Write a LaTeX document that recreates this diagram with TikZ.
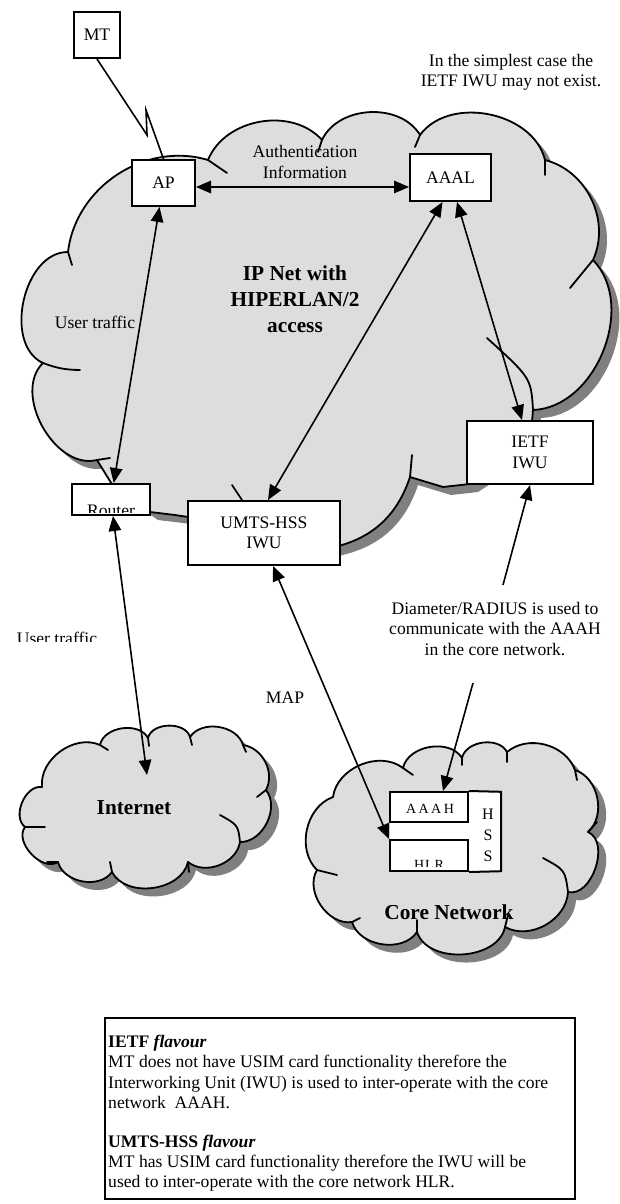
\documentclass[tikz,border=0pt]{standalone}
\usepackage{fontspec}
\setmainfont{Liberation Serif}
\usetikzlibrary{arrows.meta}
\definecolor{cloudgray}{HTML}{DDDDDD}
\definecolor{shadowgray}{HTML}{808080}
\newcommand\mysz{\fontsize{17.6}{20.5}\selectfont}
\newcommand\mybig{\fontsize{21.3}{26}\selectfont\bfseries}
\newcommand\bigcloudpath{(68,252) to[lobe=50] (208,160) to[lobe=58] (322,140) to[lobe=62] (420,135) to[lobe=65] (545,160) to[lobe=50] (593,260) to[lobe=66] (533,410) -- (530,445) -- (470,484) -- (443,487) -- (410,477) to[lobe=30] (330,548) -- (190,520) -- (188,517) -- (175,515) -- (150,512) -- (113,486) -- (97,460) to[lobe=75] (43,363) to[lobe=78] (68,252) -- cycle}
\newcommand\inetcloudpath{(42,787) to[lobe=60] (100,745) to[lobe=70] (148,738) to[lobe=75] (190,737) to[lobe=65] (243,745) to[lobe=55] (266,790) to[lobe=65] (240,842) to[lobe=60] (188,862) to[lobe=70] (112,872) to[lobe=65] (58,862) to[lobe=80] (25,827) to[lobe=75] (42,787) -- cycle}
\newcommand\corecloudpath{(333,797) to[lobe=60] (403,768) to[lobe=68] (462,758) to[lobe=70] (507,752) to[lobe=55] (575,770) to[lobe=60] (588,832) to[lobe=85] (568,892) to[lobe=58] (505,927) to[lobe=75] (417,932) to[lobe=65] (352,922) to[lobe=65] (317,870) to[lobe=58] (333,797) -- cycle}
\begin{document}
\begin{tikzpicture}[x=1pt,y=-1pt,
  lobe/.style={bend left=#1},
  lobe/.default=60,
  cloudfill/.style={fill=cloudgray, draw=black, line width=1.8pt, line join=round},
  cloudshadow/.style={fill=shadowgray, shift={(8,8)}},
  stub/.style={line width=1.8pt, line cap=round},
  box/.style={draw, line width=2pt, fill=white, inner sep=0pt, font=\mysz, align=center},
  lbl/.style={font=\mysz, align=center, inner sep=0pt},
  conn/.style={line width=1.6pt},
  >={Triangle[length=15pt,width=12.5pt]}]
\useasboundingbox (0,0) rectangle (620,1204);
\fill[white] (0,0) rectangle (620,1204);

% shadows
\path[cloudshadow] \bigcloudpath;
\path[cloudshadow] \inetcloudpath;
\path[cloudshadow] \corecloudpath;
% clouds
\path[cloudfill] \bigcloudpath;
\path[cloudfill] \inetcloudpath;
\path[cloudfill] \corecloudpath;

% stubs of the big cloud
\draw[stub] (68,252) -- (72,265);
\draw[stub] (43,363) to[bend right=10] (80,370);
\draw[stub] (97,460) -- (110,458);
\draw[stub] (208,160) -- (227,173);
\draw[stub] (322,140) -- (318,152);
\draw[stub] (420,135) -- (415,147);
\draw[stub] (545,160) -- (545,175);
\draw[stub] (593,260) -- (570,288);
\draw[stub] (533,410) .. controls (531,378) .. (487,338);
\draw[stub] (410,477) -- (412,455);
\draw[stub] (242,500) -- (232,485);
% stubs of the Internet cloud
\draw[stub] (100,745) -- (108,750);
\draw[stub] (148,738) -- (149,746);
\draw[stub] (190,737) -- (192,745);
\draw[stub] (243,745) -- (246,752);
\draw[stub] (266,790) -- (257,797);
\draw[stub] (240,842) .. controls (238,825) .. (220,815);
\draw[stub] (188,862) -- (189,872);
\draw[stub] (112,872) -- (110,862);
\draw[stub] (58,862) -- (47,862);
\draw[stub] (25,827) -- (45,827);
% stubs of the core cloud
\draw[stub] (403,768) -- (413,775);
\draw[stub] (462,758) -- (462,765);
\draw[stub] (507,752) -- (507,762);
\draw[stub] (575,770) -- (577,780);
\draw[stub] (588,832) -- (597,822);
\draw[stub] (568,892) .. controls (565,870) .. (543,858);
\draw[stub] (505,927) -- (508,915);
\draw[stub] (417,932) -- (417,920);
\draw[stub] (352,922) -- (360,918);
\draw[stub] (317,870) -- (337,875);

% boxes
\node[box, minimum width=46, minimum height=46] (MT) at (97,35) {MT};
\node[box, minimum width=63, minimum height=46] (AP) at (163.5,183) {AP};
\node[box, minimum width=81, minimum height=47] (AAAL) at (450.5,177.5) {AAAL};
\node[box, minimum width=126, minimum height=63] (IETF) at (530,452.5) {IETF\\IWU};
\node[box, minimum width=152, minimum height=64] (UMTS) at (264,533) {UMTS-HSS\\IWU};
\node[box, minimum width=78, minimum height=31] (Router) at (111,499.5) {};
\begin{scope}
  \clip (72,484) rectangle (150,512);
  \node[lbl, anchor=base] (routertxt) at (111,516) {Router};
\end{scope}

% HSS block
\node[fill=white, inner sep=0pt, minimum width=111, minimum height=79] (HSSbox) at (445.5,831.5) {};
\node[box, minimum width=78, minimum height=30] (AAAH) at (429,807) {};
\node[lbl, font=\fontsize{14}{16}\selectfont] (aaahtxt) at (430,809) {A\kern2.5pt A\kern2.5pt A\kern2.5pt H};
\node[box, minimum width=78, minimum height=31] (HLR) at (429,855.5) {};
\begin{scope}
  \clip (390,840) rectangle (468,866);
  \node[lbl, anchor=base, font=\fontsize{14}{16}\selectfont] (hlrtxt) at (429,869) {H\kern1pt L\kern1pt R};
\end{scope}
\draw[line width=2pt] (AAAH.north east) -- (HSSbox.north east) -- (HSSbox.south east) -- (HLR.south east);
\node[lbl, font=\fontsize{16}{21}\selectfont] (hsstxt) at (488,835) {H\\S\\S};

% connectors
\coordinate (z1) at (147,135);
\coordinate (z2) at (146,110);
\coordinate (dtop) at (503,585);
\coordinate (dbot) at (473,683);
\coordinate (inet) at (147,775);
\draw[conn, line join=miter] (MT.south) -- (z1) -- (z2) -- (AP.north);
\draw[conn, <->] ([shift={(0,4)}]AP.east) -- ([shift={(0,9.5)}]AAAL.west);
\draw[conn, <->] (AP) -- (Router);
\draw[conn, <->] ([shift={(-8,0)}]AAAL.south) -- ([shift={(4,0)}]UMTS.north);
\draw[conn, <->] ([shift={(6.5,0)}]AAAL.south) -- ([shift={(-8,0)}]IETF.north);
\draw[conn, ->] (dtop) -- (IETF.south);
\draw[conn, ->] (dbot) -- ([shift={(14,0)}]AAAH.north);
\draw[conn, <->] ([shift={(9,0)}]UMTS.south) -- (HLR.north west);
\draw[conn, <->] ([shift={(2,0)}]Router.south) -- (inet);

% labels
\node[lbl] (note1) at (511,72.5) {In the simplest case the\\IETF IWU may not exist.};
\node[lbl] (auth) at (305,162) {Authentication\\Information};
\node[lbl, font=\mybig] (ipnet) at (295,299) {IP Net with\\HIPERLAN/2\\access};
\node[lbl] (ut1) at (95,322) {User traffic};
\begin{scope}
  \clip (0,600) rectangle (200,641);
  \node[lbl, anchor=base] (ut2) at (57,644) {User traffic};
\end{scope}
\node[lbl] (diam) at (495,629) {Diameter/RADIUS is used to\\communicate with the AAAH\\in the core network.};
\node[lbl] (map) at (285,698) {MAP};
\node[lbl, font=\mybig] (inettxt) at (134,808) {Internet};
\node[lbl, font=\mybig] (coretxt) at (449,912) {Core Network};

% note box
\node[draw, line width=1.4pt, inner sep=0pt, minimum width=470, minimum height=181] (notebox) at (340,1108.5) {};
\node[lbl, anchor=base west] (n1) at (108,1047) {\textbf{IETF \textit{flavour}}};
\node[lbl, anchor=base west] (n2) at (108,1067) {MT does not have USIM card functionality therefore the};
\node[lbl, anchor=base west] (n3) at (108,1088) {Interworking Unit (IWU) is used to inter-operate with the core};
\node[lbl, anchor=base west] (n4) at (108,1108) {network\ \ AAAH.};
\node[lbl, anchor=base west] (n5) at (108,1147) {\textbf{UMTS-HSS \textit{flavour}}};
\node[lbl, anchor=base west] (n6) at (108,1167) {MT has USIM card functionality therefore the IWU will be};
\node[lbl, anchor=base west] (n7) at (108,1187) {used to inter-operate with the core network HLR.};
\end{tikzpicture}
\end{document}
